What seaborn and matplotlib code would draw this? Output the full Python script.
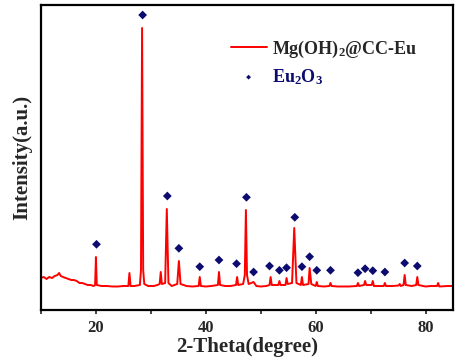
import matplotlib
matplotlib.use("Agg")
import matplotlib.pyplot as plt
import seaborn as sns
import pandas as pd
from matplotlib.ticker import MultipleLocator

# XRD pattern vertices (2-theta, intensity a.u.)
two_theta = [10.0, 10.5, 11.0, 11.5, 12.0, 12.5, 13.0, 13.3, 13.6, 14.0, 14.5, 15.0, 15.5, 16.0,
             16.5, 17.0, 17.5, 18.0, 18.5, 19.0, 19.6, 19.85, 20.0, 20.15, 21.0, 22.0, 23.0, 24.0,
             25.0, 25.9, 26.1, 26.3, 27.0, 28.0, 28.2, 28.4, 28.6, 28.8, 29.5, 30.5, 31.2, 31.6,
             31.8, 32.0, 32.6, 32.9, 33.2, 33.8, 34.8, 35.1, 35.4, 36.5, 37.5, 38.7, 38.9, 39.1,
             40.0, 41.0, 42.2, 42.4, 42.6, 43.5, 44.5, 45.5, 45.7, 45.9, 46.8, 47.1, 47.3, 47.5,
             47.8, 48.7, 49.2, 50.0, 51.0, 51.6, 51.8, 52.0, 53.2, 53.4, 53.6, 54.5, 54.7, 54.9,
             55.7, 56.1, 56.5, 57.3, 57.5, 57.7, 58.7, 58.9, 59.2, 60.0, 60.2, 60.4, 61.5, 62.5,
             62.7, 62.9, 64.0, 65.0, 66.0, 67.5, 67.7, 67.9, 68.8, 69.0, 69.2, 70.2, 70.4, 70.6,
             72.4, 72.6, 72.8, 74.0, 75.1, 75.3, 75.5, 76.0, 76.2, 76.4, 77.5, 78.3, 78.5, 78.7,
             80.0, 81.0, 82.1, 82.3, 82.5, 84.0, 85.0]
intensity = [32, 33, 31, 33, 32, 34, 35, 37, 34, 33, 32, 31, 30, 30,
             29, 27, 27, 26, 25, 25, 24, 25, 53, 25, 24, 24, 23.5, 23.5,
             24, 24, 37, 24, 24, 25, 40, 282, 40, 26, 24, 24, 25, 26,
             38, 26, 27, 101, 27, 24, 26, 49, 26, 24, 23.5, 24, 33, 24,
             23.5, 24, 25, 38, 25, 24, 24, 25, 33, 25, 26, 35, 100, 35,
             26, 28, 24, 23.5, 24, 25, 33, 25, 25, 29, 25, 25, 32, 26,
             27, 82, 27, 25, 33, 25, 26, 42, 26, 24, 28, 24, 23.5, 24,
             27, 24, 23.5, 23.5, 23.5, 24, 27, 24, 25, 29, 25, 25, 29, 24,
             24, 27, 24, 24, 24.5, 26, 24, 25, 35, 25, 24, 25, 33, 25,
             23.5, 24, 24, 27, 23.5, 24, 24]

# Eu2O3 reference markers
eu_theta = [20.1, 28.5, 33.0, 35.1, 38.9, 42.4, 45.6, 47.4, 48.7, 51.6, 53.4, 54.7,
            56.2, 57.5, 58.9, 60.2, 62.7, 67.7, 69.0, 70.4, 72.6, 76.2, 78.5]
eu_height = [65.7, 295, 114, 61.7, 43.3, 50, 46.3, 112.7, 38, 44, 39.7, 42.3,
             92.7, 43.3, 53.3, 39.7, 39.7, 37.3, 41.3, 39.3, 38, 47, 44]

sns.set_theme(style="ticks")
plt.rcParams["font.family"] = ["Liberation Serif", "DejaVu Serif"]
plt.rcParams["font.weight"] = "bold"
plt.rcParams["mathtext.default"] = "regular"

fig = plt.figure(figsize=(4.59, 3.6), dpi=100)
ax = fig.add_axes([41 / 459, 50 / 360, 412 / 459, 305 / 360])

pattern = pd.DataFrame({"x": two_theta, "y": intensity})
peaks = pd.DataFrame({"x": eu_theta, "y": eu_height})

sns.lineplot(data=pattern, x="x", y="y", ax=ax, color="#ff0000", lw=1.4,
             estimator=None, sort=False, label=r"Mg(OH)$_2$@CC-Eu")
sns.scatterplot(data=peaks, x="x", y="y", ax=ax, color="#0b0b70", marker="D",
                s=20, edgecolor="none", label=r"Eu$_2$O$_3$")

ax.set_xlim(10, 85)
ax.set_ylim(0, 305)
ax.xaxis.set_major_locator(MultipleLocator(20))
ax.xaxis.set_minor_locator(MultipleLocator(10))
ax.set_yticks([])
ax.tick_params(axis="x", which="both", direction="out", length=3, width=1.2,
               labelsize=12, pad=4)
for lab in ax.get_xticklabels():
    lab.set_fontweight("bold")
for sp in ax.spines.values():
    sp.set_visible(True)
    sp.set_linewidth(1.6)
    sp.set_color("black")

ax.set_xlabel("2-Theta(degree)", fontsize=15, fontweight="bold", labelpad=1)
ax.set_ylabel("Intensity(a.u.)", fontsize=15, fontweight="bold", labelpad=6)

leg = ax.legend(loc="upper left", bbox_to_anchor=(0.46, 0.89), frameon=False,
                prop={"family": "Liberation Serif", "weight": "bold", "size": 13},
                handlelength=2.0, handletextpad=0.3, borderpad=0, borderaxespad=0,
                labelspacing=0.4, markerscale=0.55)
leg.get_texts()[1].set_color("#0b0b70")

fig.savefig("out.png", dpi=100)
